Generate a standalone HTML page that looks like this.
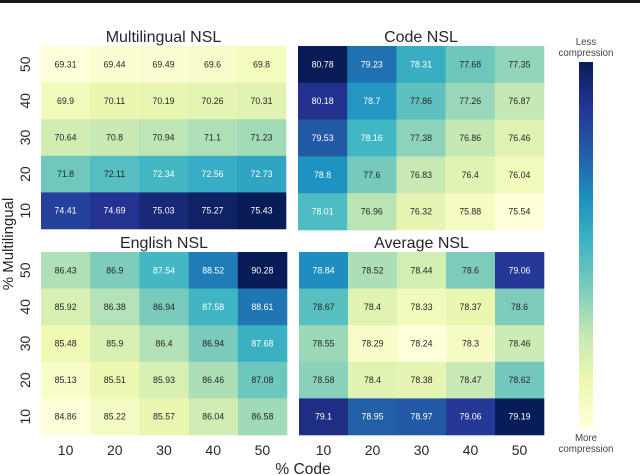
<!DOCTYPE html>
<html lang="en">
<head>
<meta charset="utf-8">
<title>NSL compression heatmaps</title>
<style>
html,body{margin:0;padding:0;background:#fff;width:640px;height:475px;overflow:hidden}
svg{display:block;font-family:"Liberation Sans",sans-serif}
</style>
</head>
<body>
<svg id="chart" xmlns="http://www.w3.org/2000/svg" width="640" height="475" viewBox="0 0 640 475">
<defs>
<linearGradient id="cbar-gradient" x1="0" y1="1" x2="0" y2="0"></linearGradient>
</defs>
<rect x="0" y="0" width="640" height="475" fill="#fff"></rect>
<rect x="0" y="0" width="640" height="3" fill="#1a1a1a"></rect>
<text transform="translate(13,244) rotate(-90)" text-anchor="middle" font-size="15" fill="#262626">% Multilingual</text>
<text x="303" y="474" text-anchor="middle" font-size="15.5" fill="#262626">% Code</text>
<rect x="579" y="62" width="14" height="366" fill="url(#cbar-gradient)"></rect>
<text x="586" y="45" text-anchor="middle" font-size="9.7" fill="#444">Less</text>
<text x="586" y="56" text-anchor="middle" font-size="9.7" fill="#444">compression</text>
<text x="586" y="441" text-anchor="middle" font-size="9.7" fill="#444">More</text>
<text x="586" y="452" text-anchor="middle" font-size="9.7" fill="#444">compression</text>
<g id="panels"></g>
</svg>
<script>
// Data
const codeCategories = ["10", "20", "30", "40", "50"];
const multilingualCategories = ["50", "40", "30", "20", "10"];
const colormapStops = ["#ffffd9", "#edf8b1", "#c7e9b4", "#7fcdbb", "#41b6c4", "#1d91c0", "#225ea8", "#253494", "#081d58"];
const multilingualValues = [
  [69.31, 69.44, 69.49, 69.6, 69.8],
  [69.9, 70.11, 70.19, 70.26, 70.31],
  [70.64, 70.8, 70.94, 71.1, 71.23],
  [71.8, 72.11, 72.34, 72.56, 72.73],
  [74.41, 74.69, 75.03, 75.27, 75.43]
];
const codeValues = [
  [80.78, 79.23, 78.31, 77.68, 77.35],
  [80.18, 78.7, 77.86, 77.26, 76.87],
  [79.53, 78.16, 77.38, 76.86, 76.46],
  [78.8, 77.6, 76.83, 76.4, 76.04],
  [78.01, 76.96, 76.32, 75.88, 75.54]
];
const englishValues = [
  [86.43, 86.9, 87.54, 88.52, 90.28],
  [85.92, 86.38, 86.94, 87.58, 88.61],
  [85.48, 85.9, 86.4, 86.94, 87.68],
  [85.13, 85.51, 85.93, 86.46, 87.08],
  [84.86, 85.22, 85.57, 86.04, 86.58]
];
const averageValues = [
  [78.84, 78.52, 78.44, 78.6, 79.06],
  [78.67, 78.4, 78.33, 78.37, 78.6],
  [78.55, 78.29, 78.24, 78.3, 78.46],
  [78.58, 78.4, 78.38, 78.47, 78.62],
  [79.1, 78.95, 78.97, 79.06, 79.19]
];

const SVG_NS = "http://www.w3.org/2000/svg";
const panelsRoot = document.getElementById("panels");

function hexToRgb(h) {
  return [parseInt(h.slice(1, 3), 16), parseInt(h.slice(3, 5), 16), parseInt(h.slice(5, 7), 16)];
}
function colormap(t) {
  const c = Math.max(0, Math.min(1, t)) * (colormapStops.length - 1);
  const i = Math.min(Math.floor(c), colormapStops.length - 2);
  const a = hexToRgb(colormapStops[i]);
  const b = hexToRgb(colormapStops[i + 1]);
  const f = c - i;
  return [0, 1, 2].map(k => Math.round(a[k] + (b[k] - a[k]) * f));
}
function luminance(rgb) {
  const l = rgb.map(v => {
    const s = v / 255;
    return s <= 0.03928 ? s / 12.92 : Math.pow((s + 0.055) / 1.055, 2.4);
  });
  return 0.2126 * l[0] + 0.7152 * l[1] + 0.0722 * l[2];
}
function bandScale(start, size, count) {
  return i => start + i * size / count;
}
function svgEl(tag, attrs, text) {
  const el = document.createElementNS(SVG_NS, tag);
  Object.keys(attrs).forEach(k => el.setAttribute(k, attrs[k]));
  if (text !== undefined) el.textContent = text;
  return el;
}

function drawPanel(cfg) {
  const group = svgEl("g", {});
  
  
  const values = cfg.values;
  const flat = values.flat();
  const vMin = Math.min.apply(null, flat);
  const vMax = Math.max.apply(null, flat);
  const xScale = bandScale(cfg.x, cfg.w, codeCategories.length);
  const yScale = bandScale(cfg.y, cfg.h, multilingualCategories.length);
  const cellW = cfg.w / codeCategories.length;
  const cellH = cfg.h / multilingualCategories.length;

  const title = svgEl("text", {x: cfg.x + cfg.w / 2, y: cfg.y - 4, "text-anchor": "middle", "font-size": 16, fill: "#262626"}, cfg.title);
  
  
  group.appendChild(title);

  values.forEach((row, r) => {
    row.forEach((v, c) => {
      const rgb = colormap((v - vMin) / (vMax - vMin));
      const cell = svgEl("rect", {x: xScale(c), y: yScale(r), width: cellW + 0.3, height: cellH + 0.3, fill: "rgb(" + rgb.join(",") + ")"});
      
      
      group.appendChild(cell);
      const label = svgEl("text", {
        x: xScale(c) + cellW / 2,
        y: yScale(r) + cellH / 2 + 3,
        "text-anchor": "middle",
        "font-size": 8.8,
        fill: luminance(rgb) > 0.418 ? "#262626" : "#ffffff"
      }, String(v));
      
      
      group.appendChild(label);
    });
  });

  if (cfg.showY) {
    multilingualCategories.forEach((t, i) => {
      const cy = yScale(i) + cellH / 2;
      const tick = svgEl("text", {transform: "translate(30," + cy + ") rotate(-90)", "text-anchor": "middle", "font-size": 14, fill: "#262626"}, t);
      
      
      group.appendChild(tick);
    });
  }
  if (cfg.showX) {
    codeCategories.forEach((t, i) => {
      const cx = xScale(i) + cellW / 2;
      const tick = svgEl("text", {x: cx, y: 455, "text-anchor": "middle", "font-size": 14, fill: "#262626"}, t);
      
      
      group.appendChild(tick);
    });
  }
  panelsRoot.appendChild(group);
}

const gradient = document.getElementById("cbar-gradient");
colormapStops.forEach((col, i) => {
  gradient.appendChild(svgEl("stop", {offset: i / (colormapStops.length - 1), "stop-color": col}));
});

drawPanel({slug: "multilingual-nsl", title: "Multilingual NSL", values: multilingualValues, x: 41, y: 46, w: 245, h: 183, showY: true, showX: false});
drawPanel({slug: "code-nsl", title: "Code NSL", values: codeValues, x: 298, y: 46, w: 246, h: 184, showY: false, showX: false});
drawPanel({slug: "english-nsl", title: "English NSL", values: englishValues, x: 41, y: 252, w: 246, h: 183, showY: true, showX: true});
drawPanel({slug: "average-nsl", title: "Average NSL", values: averageValues, x: 299, y: 252, w: 245, h: 183, showY: false, showX: true});
</script>
</body>
</html>
